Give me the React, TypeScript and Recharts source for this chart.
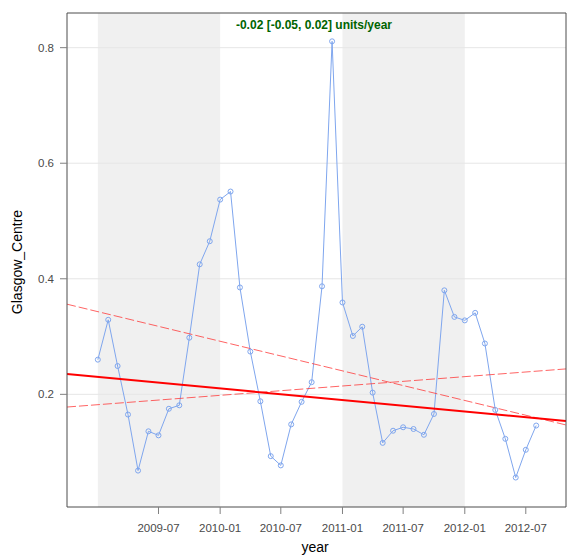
import {
  LineChart,
  Line,
  XAxis,
  YAxis,
  ReferenceArea,
  ReferenceLine,
} from "recharts";

const months = [
  "2009-01", "2009-02", "2009-03", "2009-04", "2009-05", "2009-06",
  "2009-07", "2009-08", "2009-09", "2009-10", "2009-11", "2009-12",
  "2010-01", "2010-02", "2010-03", "2010-04", "2010-05", "2010-06",
  "2010-07", "2010-08", "2010-09", "2010-10", "2010-11", "2010-12",
  "2011-01", "2011-02", "2011-03", "2011-04", "2011-05", "2011-06",
  "2011-07", "2011-08", "2011-09", "2011-10", "2011-11", "2011-12",
  "2012-01", "2012-02", "2012-03", "2012-04", "2012-05", "2012-06",
  "2012-07", "2012-08",
];

const values = [
  0.26, 0.329, 0.249, 0.165, 0.068, 0.136,
  0.129, 0.175, 0.181, 0.298, 0.425, 0.465,
  0.537, 0.551, 0.385, 0.274, 0.188, 0.093,
  0.077, 0.148, 0.187, 0.221, 0.387, 0.811,
  0.359, 0.301, 0.317, 0.203, 0.116, 0.137,
  0.143, 0.14, 0.13, 0.166, 0.38, 0.334,
  0.328, 0.341, 0.288, 0.173, 0.123, 0.056,
  0.104, 0.146,
];

// Theil-Sen trend and its confidence limits, at the plot edges
const trendDates = ["2008-10-01", "2012-10-29"];
const trendMain = [0.235, 0.154];
const trendUpper = [0.356, 0.147];
const trendLower = [0.178, 0.244];

const shadedYears = [
  ["2009-01-01", "2010-01-01"],
  ["2011-01-01", "2012-01-01"],
];

const xTickLabels = ["2009-07", "2010-01", "2010-07", "2011-01", "2011-07", "2012-01", "2012-07"];
const yTicks = [0.2, 0.4, 0.6, 0.8];

const slopeText = "-0.02 [-0.05, 0.02] units/year";

const toTime = (s: string) => {
  const [y, m, d] = s.split("-").map(Number);
  return Date.UTC(y, m - 1, d || 1);
};

const data = [
  { t: toTime(trendDates[0]), main: trendMain[0], upper: trendUpper[0], lower: trendLower[0] },
  ...months.map((m, i) => ({ t: toTime(m), value: values[i] })),
  { t: toTime(trendDates[1]), main: trendMain[1], upper: trendUpper[1], lower: trendLower[1] },
];

const xDomain = [toTime(trendDates[0]), toTime(trendDates[1])];
const yDomain = [0.005, 0.86];
const xTicks = xTickLabels.map(toTime);

const fmtMonth = (t: number) => {
  const d = new Date(t);
  return `${d.getUTCFullYear()}-${String(d.getUTCMonth() + 1).padStart(2, "0")}`;
};

const FONT = "'Liberation Sans', Arial, sans-serif";
const FRAME = "#4d4d4d";
const TICK = "#808080";
const tickStyle = { fontSize: 11.5, fill: "#4a4a4a", fontFamily: FONT };

// slope text sits inside the panel, over the shading
const SlopeLabel = () => (
  <text x={314} y={29} textAnchor="middle" fontSize={12} fontWeight="bold" fill="#006400" fontFamily={FONT}>
    {slopeText}
  </text>
);

const YTitle = () => (
  <text x={22} y={262} textAnchor="middle" fontSize={14} fill="#000" fontFamily={FONT} transform="rotate(-90 22 262)">
    Glasgow_Centre
  </text>
);

const XTitle = () => (
  <text x={315} y={552} textAnchor="middle" fontSize={14} fill="#000" fontFamily={FONT}>
    year
  </text>
);

export default function App() {
  return (
    <div style={{ position: "absolute", left: 0, top: 0, background: "#fff" }}>
      <LineChart width={569} height={559} data={data} margin={{ top: 0, right: 0, bottom: 0, left: 0 }}>
        {shadedYears.map(([a, b]) => (
          <ReferenceArea
            key={a}
            x1={toTime(a)}
            x2={toTime(b)}
            fill="#f0f0f0"
            fillOpacity={1}
            stroke="none"
            ifOverflow="hidden"
          />
        ))}
        {yTicks.map((v) => (
          <ReferenceLine key={v} y={v} stroke="#e6e6e6" strokeWidth={1} />
        ))}
        <XAxis
          dataKey="t"
          type="number"
          domain={xDomain}
          ticks={xTicks}
          tickFormatter={fmtMonth}
          allowDataOverflow
          height={52}
          tickSize={7}
          tickMargin={10}
          tick={tickStyle}
          tickLine={{ stroke: TICK }}
          axisLine={{ stroke: FRAME }}
          label={{ content: XTitle }}
        />
        <XAxis
          xAxisId="top"
          orientation="top"
          dataKey="t"
          type="number"
          domain={xDomain}
          ticks={xTicks}
          allowDataOverflow
          height={13}
          tickSize={7}
          tick={false}
          tickLine={{ stroke: TICK }}
          axisLine={{ stroke: FRAME }}
          label={{ content: SlopeLabel }}
        />
        <YAxis
          type="number"
          domain={yDomain}
          ticks={yTicks}
          allowDataOverflow
          width={67}
          tickSize={7}
          tickMargin={6}
          tick={tickStyle}
          tickLine={{ stroke: TICK }}
          axisLine={{ stroke: FRAME }}
          label={{ content: YTitle }}
        />
        <YAxis
          yAxisId="right"
          orientation="right"
          type="number"
          domain={yDomain}
          ticks={yTicks}
          allowDataOverflow
          width={3}
          tickSize={7}
          tick={false}
          tickLine={{ stroke: TICK }}
          axisLine={{ stroke: FRAME }}
        />
        <Line
          dataKey="value"
          stroke="#7fa6ee"
          strokeWidth={1}
          dot={{ r: 2.5, stroke: "#7fa6ee", strokeWidth: 1, fill: "none" }}
          activeDot={false}
          isAnimationActive={false}
        />
        <Line
          dataKey="upper"
          connectNulls
          stroke="#ff3030"
          strokeWidth={1}
          strokeDasharray="9 3"
          strokeOpacity={0.75}
          dot={false}
          activeDot={false}
          isAnimationActive={false}
        />
        <Line
          dataKey="lower"
          connectNulls
          stroke="#ff3030"
          strokeWidth={1}
          strokeDasharray="9 3"
          strokeOpacity={0.75}
          dot={false}
          activeDot={false}
          isAnimationActive={false}
        />
        <Line
          dataKey="main"
          connectNulls
          stroke="#ff0000"
          strokeWidth={2}
          dot={false}
          activeDot={false}
          isAnimationActive={false}
        />
      </LineChart>
    </div>
  );
}
